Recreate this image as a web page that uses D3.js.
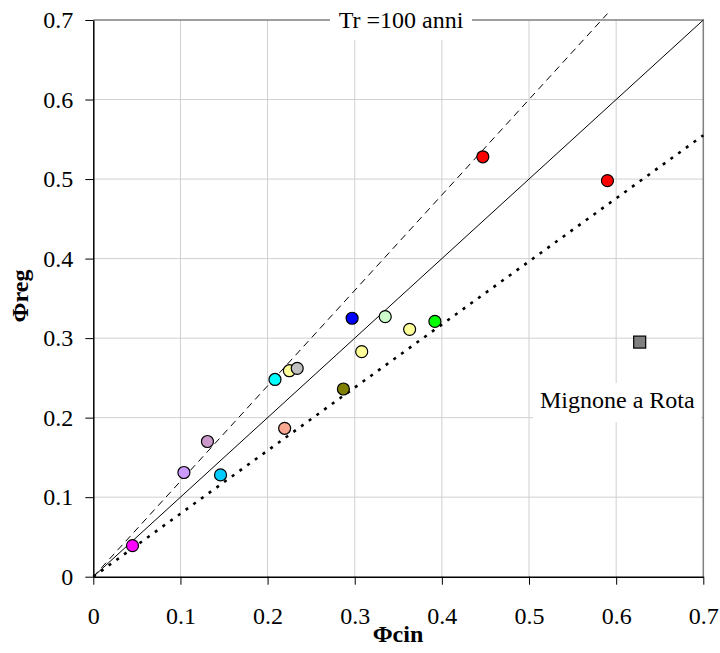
<!DOCTYPE html>
<html>
<head>
<meta charset="utf-8">
<script src="https://cdn.jsdelivr.net/npm/d3@7"></script>
<style>
  html, body { margin: 0; padding: 0; background: #fff; }
  svg { display: block; }
</style>
</head>
<body>
<svg id="chart" width="720" height="653"></svg>
<script>
// Observed basins: kinematic vs regional runoff coefficient
const phiCin = [0.045, 0.104, 0.131, 0.146, 0.2085, 0.2196, 0.225, 0.234, 0.287, 0.297, 0.308, 0.335, 0.363, 0.392, 0.447, 0.590];
const phiReg = [0.039, 0.131, 0.170, 0.128, 0.248, 0.1866, 0.259, 0.262, 0.236, 0.325, 0.283, 0.327, 0.311, 0.321, 0.528, 0.498];
const pointColors = ["#ff00ff", "#cc99ff", "#cc99cc", "#00ccff", "#00ffff", "#f8a890", "#ffff99", "#c0c0c0",
                     "#808000", "#0000ff", "#ffff99", "#ccffcc", "#ffff99", "#00ff00", "#ff0000", "#ff0000"];

// Outlier basin
const outlierName = "Mignone a Rota";
const outlierCin = [0.627];
const outlierReg = [0.295];

// Reference lines
const bisector = [[0, 0], [0.7, 0.7]];
const upperLine = [[0, 0], [0.59, 0.708]];
const trendLine = [[0, 0], [0.7, 0.555]];

const tickValues = [0, 0.1, 0.2, 0.3, 0.4, 0.5, 0.6, 0.7];
const tickLabels = ["0", "0.1", "0.2", "0.3", "0.4", "0.5", "0.6", "0.7"];
const chartTitle = "Tr =100 anni";
const xTitle = "Φcin";
const yTitle = "Φreg";

const svg = d3.select("#chart");
const plotLeft = 93.3, plotRight = 703.3, plotTop = 20, plotBottom = 576.7;

const x = d3.scaleLinear().domain([0, 0.7]).range([plotLeft, plotRight]);
const y = d3.scaleLinear().domain([0, 0.7]).range([plotBottom, plotTop]);

svg.append("rect").attr("width", 720).attr("height", 653).attr("fill", "#fff");

// Gridlines
const grid = svg.append("g").attr("stroke", "#d0d0d0").attr("stroke-width", 1);
grid.selectAll("line.v").data(tickValues.slice(1, -1)).join("line").attr("class", "v")
  .attr("x1", d => x(d)).attr("x2", d => x(d)).attr("y1", plotTop).attr("y2", plotBottom);
grid.selectAll("line.h").data(tickValues.slice(1, -1)).join("line").attr("class", "h")
  .attr("x1", plotLeft).attr("x2", plotRight).attr("y1", d => y(d)).attr("y2", d => y(d));

// Plot frame (top/right)
svg.append("path")
  .attr("d", `M${plotLeft},${plotTop}H${plotRight}V${plotBottom}`)
  .attr("fill", "none").attr("stroke", "#808080").attr("stroke-width", 1.5);

// Label boxes that mask the grid
svg.append("rect").attr("x", 330).attr("y", 0).attr("width", 142).attr("height", 40).attr("fill", "#fff");
svg.append("rect").attr("x", 533).attr("y", 383).attr("width", 168).attr("height", 39).attr("fill", "#fff");

// Axes
const serif = "'Liberation Serif', 'Times New Roman', serif";
const fmt = d => tickLabels[tickValues.indexOf(d)];
const xAxis = svg.append("g").attr("transform", `translate(0,${plotBottom})`)
  .call(d3.axisBottom(x).tickValues(tickValues).tickFormat(fmt).tickSize(8).tickPadding(22).tickSizeOuter(0));
const yAxis = svg.append("g").attr("transform", `translate(${plotLeft},0)`)
  .call(d3.axisLeft(y).tickValues(tickValues).tickFormat(fmt).tickSize(8).tickPadding(12).tickSizeOuter(0));
[xAxis, yAxis].forEach(a => {
  a.attr("font-family", serif).attr("font-size", 24);
  a.select(".domain").attr("stroke", "#000").attr("stroke-width", 1.5);
  a.selectAll(".tick line").attr("stroke", "#000").attr("stroke-width", 1);
  a.selectAll(".tick text").attr("fill", "#000");
});

// Lines
const line = d3.line().x(d => x(d[0])).y(d => y(d[1]));
svg.append("path").datum(bisector).attr("d", line)
  .attr("fill", "none").attr("stroke", "#000").attr("stroke-width", 1);
svg.append("path").datum(upperLine).attr("d", line)
  .attr("fill", "none").attr("stroke", "#000").attr("stroke-width", 1).attr("stroke-dasharray", "7,5");
svg.append("path").datum(trendLine).attr("d", line)
  .attr("fill", "none").attr("stroke", "#000").attr("stroke-width", 2.6).attr("stroke-dasharray", "3,6.5");

// Points
svg.append("g").selectAll("circle").data(phiCin).join("circle")
  .attr("cx", d => x(d)).attr("cy", (d, i) => y(phiReg[i])).attr("r", 6)
  .attr("fill", (d, i) => pointColors[i]).attr("stroke", "#000").attr("stroke-width", 1.2);

svg.append("g").selectAll("rect").data(outlierCin).join("rect")
  .attr("x", d => x(d) - 6).attr("y", (d, i) => y(outlierReg[i]) - 6)
  .attr("width", 12).attr("height", 12)
  .attr("fill", "#808080").attr("stroke", "#000").attr("stroke-width", 1.2);

// Text
svg.append("text").attr("x", 401).attr("y", 28).attr("text-anchor", "middle")
  .attr("font-family", serif).attr("font-size", 24).text(chartTitle);
svg.append("text").attr("x", 540).attr("y", 408)
  .attr("font-family", serif).attr("font-size", 24).text(outlierName);
svg.append("text").attr("x", 398).attr("y", 642).attr("text-anchor", "middle")
  .attr("font-family", serif).attr("font-size", 24).attr("font-weight", "bold").text(xTitle);
svg.append("text").attr("transform", "translate(28,296) rotate(-90)").attr("text-anchor", "middle")
  .attr("font-family", serif).attr("font-size", 24).attr("font-weight", "bold").text(yTitle);
</script>
</body>
</html>
